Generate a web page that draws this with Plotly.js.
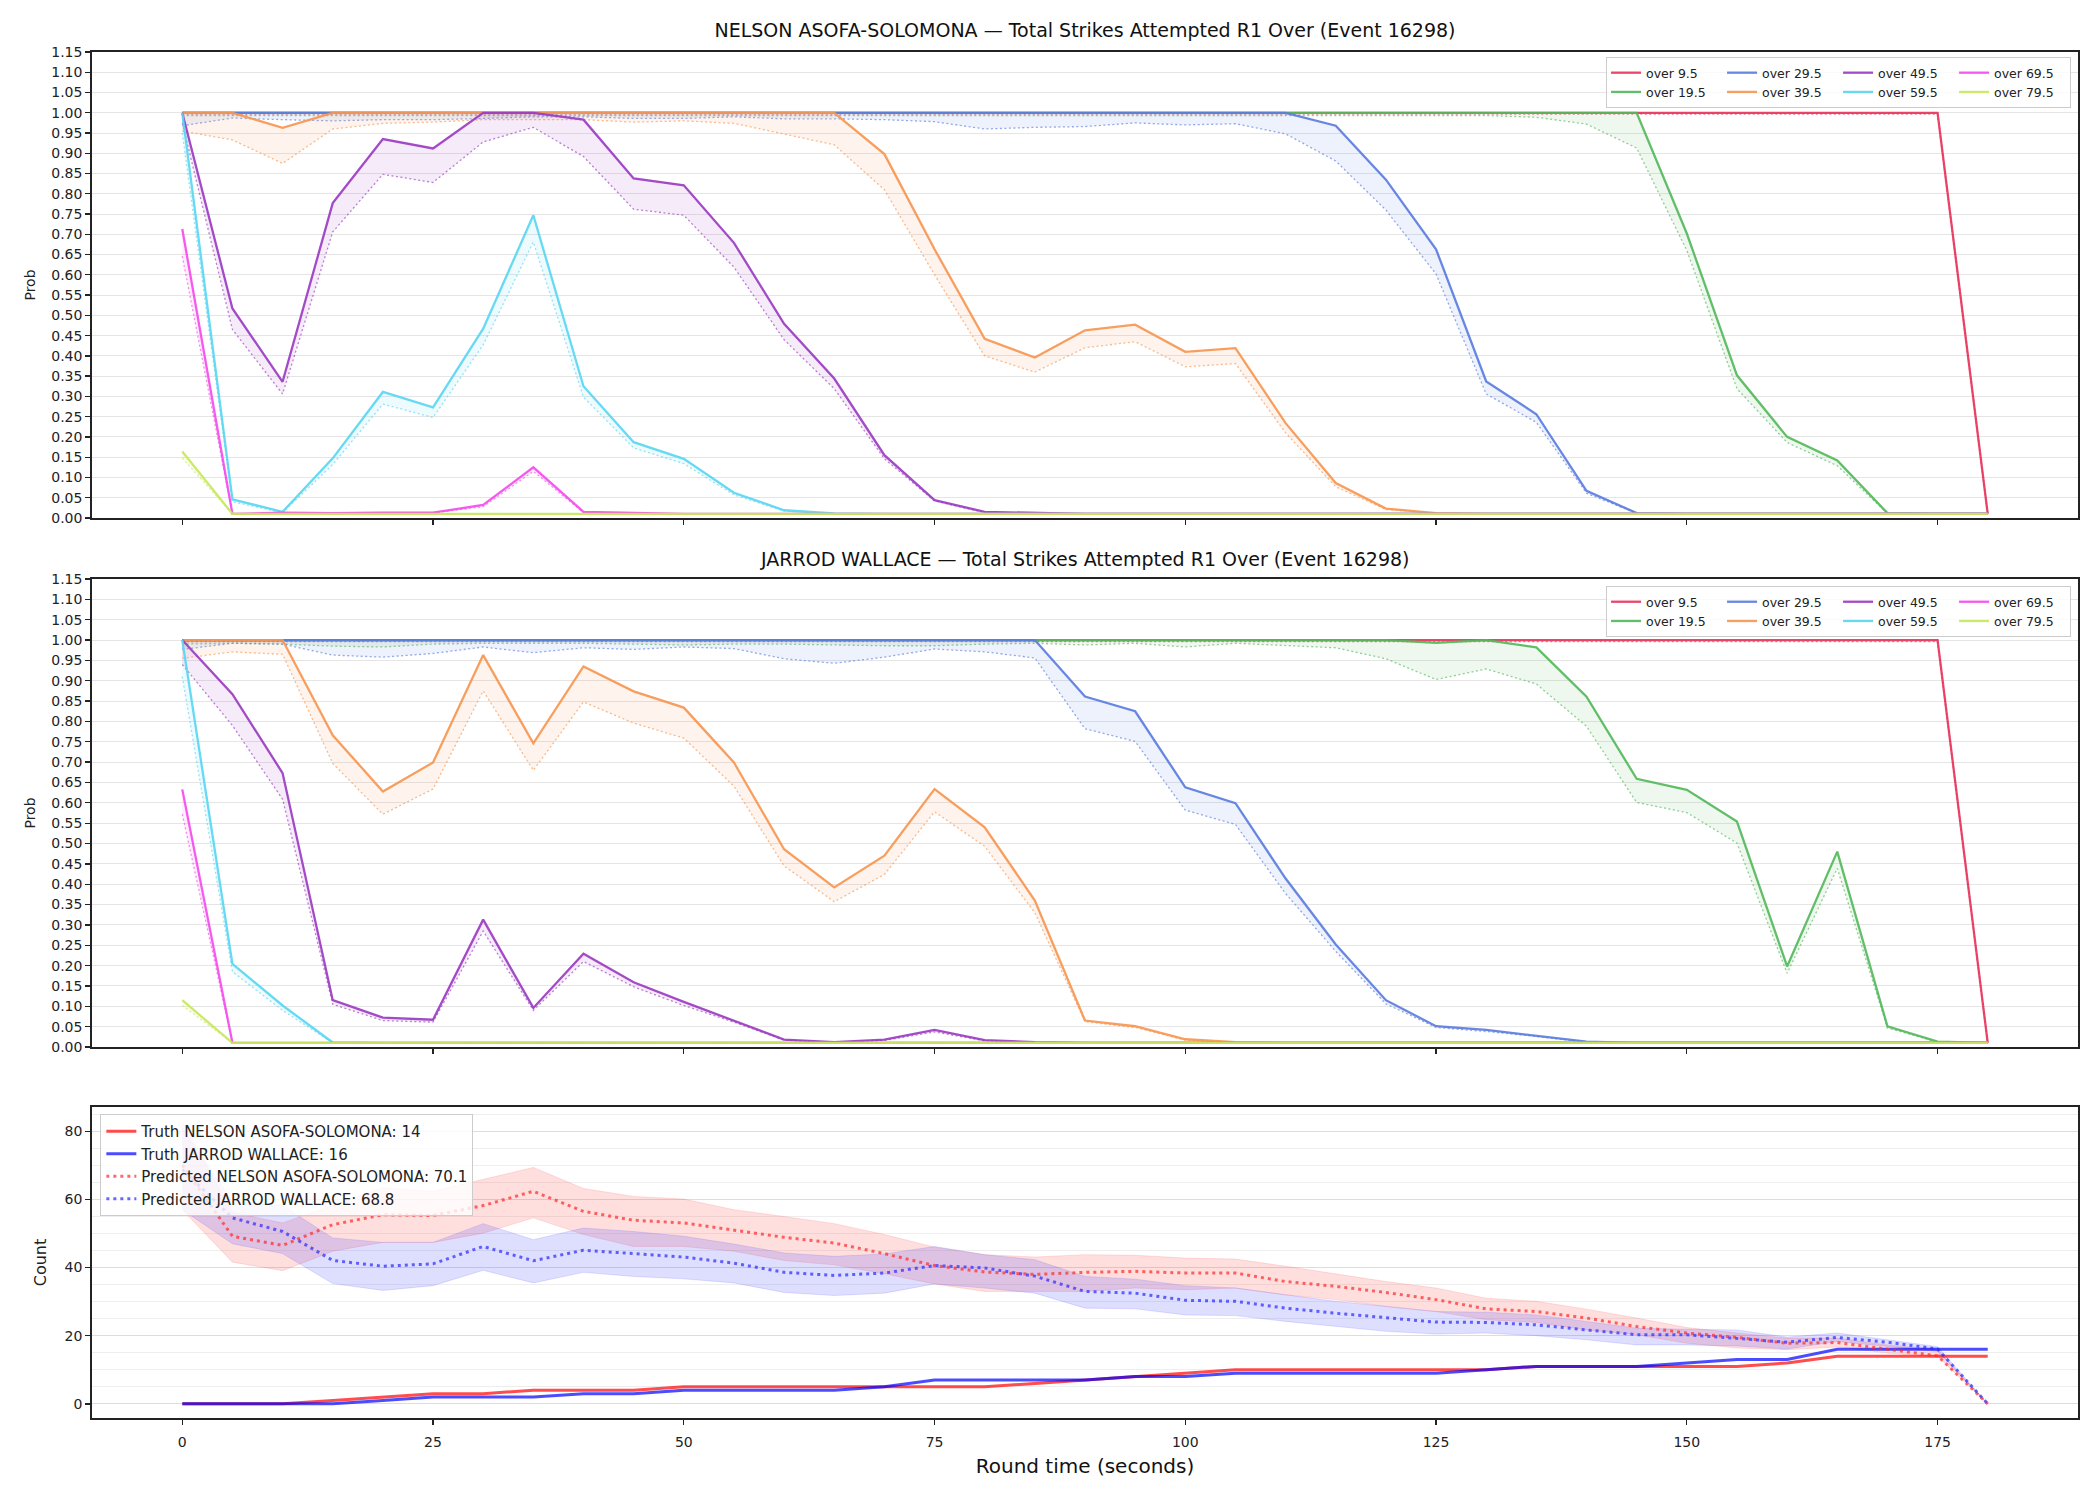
<!DOCTYPE html>
<html><head><meta charset="utf-8">
<script src="https://cdn.plot.ly/plotly-3.0.1.min.js"></script>
<style>html,body{margin:0;padding:0;background:#fff}#chart{width:2100px;height:1500px}</style>
</head><body><div id="chart"></div>
<script>
// ---------- data ----------
const t = [0,5,10,15,20,25,30,35,40,45,50,55,60,65,70,75,80,85,90,95,100,105,110,115,120,125,130,135,140,145,150,155,160,165,170,175,180];
const overLabels = ['over 9.5','over 19.5','over 29.5','over 39.5','over 49.5','over 59.5','over 69.5','over 79.5'];
const overColors = ['#e8365d','#55b95c','#5b7de0','#f79650','#9b3cc2','#5ad6f2','#f44ced','#c8e85c'];

// NELSON ASOFA-SOLOMONA (solid line / dotted line)
const n_o9   = [1,1,1,1,1,1,1,1,1,1, 1,1,1,1,1,1,1,1,1,1, 1,1,1,1,1,1,1,1,1,1, 1,1,1,1,1,1,0.01];
const n_o9d  = [0.997,0.997,0.997,0.997,0.997,0.997,0.997,0.997,0.997,0.997, 0.997,0.997,0.997,0.997,0.997,0.997,0.997,0.997,0.997,0.997, 0.997,0.997,0.997,0.997,0.997,0.997,0.997,0.997,0.997,0.997, 0.997,0.997,0.997,0.997,0.997,0.997,0.01];
const n_o19  = [1,1,1,1,1,1,1,1,1,1, 1,1,1,1,1,1,1,1,1,1, 1,1,1,1,1,1,1,1,1,1, 0.702,0.352,0.200,0.142,0.012,0.01,0.01];
const n_o19d = [0.993,0.993,0.993,0.993,0.993,0.993,0.993,0.993,0.993,0.993, 0.993,0.993,0.993,0.993,0.993,0.993,0.993,0.993,0.993,0.993, 0.993,0.993,0.993,0.993,0.993,0.993,0.993,0.989,0.972,0.913, 0.660,0.319,0.186,0.129,0.011,0.01,0.01];
const n_o29  = [1,1,1,1,1,1,1,1,1,1, 1,1,1,1,1,1,1,1,1,1, 1,1,1,0.968,0.835,0.663,0.337,0.256,0.067,0.012, 0.01,0.01,0.01,0.01,0.01,0.01,0.01];
const n_o29d = [0.968,0.987,0.983,0.980,0.983,0.983,0.986,0.990,0.990,0.986, 0.986,0.990,0.985,0.985,0.983,0.978,0.960,0.964,0.966,0.975, 0.970,0.973,0.948,0.881,0.760,0.602,0.306,0.236,0.061,0.011, 0.01,0.01,0.01,0.01,0.01,0.01,0.01];
const n_o39  = [1,1,0.963,1,1,1,1,1,1,1, 1,1,1,1,0.898,0.663,0.442,0.396,0.463,0.477, 0.410,0.419,0.234,0.086,0.023,0.012,0.01,0.01,0.01,0.01, 0.01,0.01,0.01,0.01,0.01,0.01,0.01];
const n_o39d = [0.955,0.933,0.875,0.960,0.974,0.977,0.983,0.983,0.983,0.977, 0.980,0.974,0.948,0.921,0.810,0.600,0.400,0.360,0.420,0.435, 0.373,0.381,0.210,0.077,0.021,0.011,0.01,0.01,0.01,0.01, 0.01,0.01,0.01,0.01,0.01,0.01,0.01];
const n_o49  = [1,0.517,0.336,0.777,0.935,0.912,1,1,0.983,0.838, 0.821,0.679,0.479,0.344,0.155,0.044,0.015,0.012,0.01,0.01, 0.01,0.01,0.01,0.01,0.01,0.01,0.01,0.01,0.01,0.01, 0.01,0.01,0.01,0.01,0.01,0.01,0.01];
const n_o49d = [0.975,0.465,0.306,0.706,0.848,0.828,0.928,0.964,0.892,0.762, 0.747,0.619,0.440,0.319,0.146,0.042,0.013,0.011,0.01,0.01, 0.01,0.01,0.01,0.01,0.01,0.01,0.01,0.01,0.01,0.01, 0.01,0.01,0.01,0.01,0.01,0.01,0.01];
const n_o59  = [1,0.046,0.015,0.147,0.311,0.273,0.467,0.747,0.325,0.187, 0.146,0.062,0.019,0.011,0.01,0.01,0.01,0.01,0.01,0.01, 0.01,0.01,0.01,0.01,0.01,0.01,0.01,0.01,0.01,0.01, 0.01,0.01,0.01,0.01,0.01,0.01,0.01];
const n_o59d = [0.950,0.040,0.013,0.132,0.281,0.248,0.427,0.681,0.298,0.173, 0.134,0.057,0.017,0.010,0.01,0.01,0.01,0.01,0.01,0.01, 0.01,0.01,0.01,0.01,0.01,0.01,0.01,0.01,0.01,0.01, 0.01,0.01,0.01,0.01,0.01,0.01,0.01];
const n_o69  = [0.713,0.01,0.013,0.012,0.013,0.013,0.032,0.125,0.015,0.012, 0.01,0.01,0.01,0.01,0.01,0.01,0.01,0.01,0.01,0.01, 0.01,0.01,0.01,0.01,0.01,0.01,0.01,0.01,0.01,0.01, 0.01,0.01,0.01,0.01,0.01,0.01,0.01];
const n_o69d = [0.646,0.01,0.012,0.011,0.012,0.012,0.028,0.115,0.013,0.011, 0.01,0.01,0.01,0.01,0.01,0.01,0.01,0.01,0.01,0.01, 0.01,0.01,0.01,0.01,0.01,0.01,0.01,0.01,0.01,0.01, 0.01,0.01,0.01,0.01,0.01,0.01,0.01];
const n_o79  = [0.164,0.01,0.01,0.01,0.01,0.01,0.01,0.01,0.01,0.01, 0.01,0.01,0.01,0.01,0.01,0.01,0.01,0.01,0.01,0.01, 0.01,0.01,0.01,0.01,0.01,0.01,0.01,0.01,0.01,0.01, 0.01,0.01,0.01,0.01,0.01,0.01,0.01];
const n_o79d = [0.148,0.01,0.01,0.01,0.01,0.01,0.01,0.01,0.01,0.01, 0.01,0.01,0.01,0.01,0.01,0.01,0.01,0.01,0.01,0.01, 0.01,0.01,0.01,0.01,0.01,0.01,0.01,0.01,0.01,0.01, 0.01,0.01,0.01,0.01,0.01,0.01,0.01];

// JARROD WALLACE (solid line / dotted line)
const j_o9   = [1,1,1,1,1,1,1,1,1,1, 1,1,1,1,1,1,1,1,1,1, 1,1,1,1,1,1,1,1,1,1, 1,1,1,1,1,1,0.01];
const j_o9d  = [0.996,0.996,0.996,0.996,0.996,0.996,0.996,0.996,0.996,0.996, 0.996,0.996,0.996,0.996,0.996,0.996,0.996,0.996,0.996,0.996, 0.996,0.996,0.996,0.996,0.996,0.996,0.996,0.996,0.996,0.996, 0.996,0.996,0.996,0.996,0.996,0.996,0.01];
const j_o19  = [1,1,1,1,1,1,1,1,1,1, 1,1,1,1,1,1,1,1,1,1, 1,1,1,1,1,0.993,1,0.982,0.861,0.659, 0.632,0.554,0.198,0.480,0.051,0.013,0.01];
const j_o19d = [0.990,0.992,0.990,0.985,0.983,0.990,0.992,0.992,0.992,0.990, 0.988,0.990,0.990,0.988,0.986,0.986,0.990,0.992,0.988,0.992, 0.983,0.992,0.986,0.981,0.954,0.903,0.929,0.892,0.788,0.601, 0.576,0.501,0.181,0.439,0.047,0.012,0.01];
const j_o29  = [1,1,1,1,1,1,1,1,1,1, 1,1,1,1,1,1,1,1,0.861,0.825, 0.638,0.599,0.414,0.252,0.115,0.051,0.042,0.027,0.013,0.01, 0.01,0.01,0.01,0.01,0.01,0.01,0.01];
const j_o29d = [0.977,0.992,0.990,0.963,0.958,0.967,0.983,0.969,0.981,0.977, 0.983,0.979,0.954,0.943,0.958,0.978,0.971,0.956,0.782,0.751, 0.582,0.547,0.377,0.235,0.106,0.048,0.038,0.026,0.012,0.01, 0.01,0.01,0.01,0.01,0.01,0.01,0.01];
const j_o39  = [1,1,1,0.766,0.628,0.699,0.963,0.746,0.935,0.874, 0.834,0.699,0.486,0.392,0.470,0.634,0.540,0.360,0.065,0.051, 0.019,0.012,0.01,0.01,0.01,0.01,0.01,0.01,0.01,0.01, 0.01,0.01,0.01,0.01,0.01,0.01,0.01];
const j_o39d = [0.955,0.971,0.965,0.697,0.572,0.634,0.875,0.680,0.848,0.796, 0.759,0.641,0.445,0.357,0.424,0.578,0.493,0.330,0.062,0.048, 0.017,0.011,0.01,0.01,0.01,0.01,0.01,0.01,0.01,0.01, 0.01,0.01,0.01,0.01,0.01,0.01,0.01];
const j_o49  = [1,0.867,0.673,0.115,0.072,0.067,0.313,0.096,0.229,0.159, 0.111,0.065,0.018,0.012,0.018,0.042,0.017,0.012,0.01,0.01, 0.01,0.01,0.01,0.01,0.01,0.01,0.01,0.01,0.01,0.01, 0.01,0.01,0.01,0.01,0.01,0.01,0.01];
const j_o49d = [0.940,0.790,0.609,0.105,0.065,0.061,0.285,0.090,0.210,0.148, 0.102,0.061,0.017,0.011,0.016,0.037,0.015,0.011,0.01,0.01, 0.01,0.01,0.01,0.01,0.01,0.01,0.01,0.01,0.01,0.01, 0.01,0.01,0.01,0.01,0.01,0.01,0.01];
const j_o59  = [1,0.204,0.102,0.011,0.01,0.01,0.01,0.01,0.01,0.01, 0.01,0.01,0.01,0.01,0.01,0.01,0.01,0.01,0.01,0.01, 0.01,0.01,0.01,0.01,0.01,0.01,0.01,0.01,0.01,0.01, 0.01,0.01,0.01,0.01,0.01,0.01,0.01];
const j_o59d = [0.910,0.185,0.090,0.010,0.01,0.01,0.01,0.01,0.01,0.01, 0.01,0.01,0.01,0.01,0.01,0.01,0.01,0.01,0.01,0.01, 0.01,0.01,0.01,0.01,0.01,0.01,0.01,0.01,0.01,0.01, 0.01,0.01,0.01,0.01,0.01,0.01,0.01];
const j_o69  = [0.633,0.01,0.01,0.01,0.01,0.01,0.01,0.01,0.01,0.01, 0.01,0.01,0.01,0.01,0.01,0.01,0.01,0.01,0.01,0.01, 0.01,0.01,0.01,0.01,0.01,0.01,0.01,0.01,0.01,0.01, 0.01,0.01,0.01,0.01,0.01,0.01,0.01];
const j_o69d = [0.572,0.01,0.01,0.01,0.01,0.01,0.01,0.01,0.01,0.01, 0.01,0.01,0.01,0.01,0.01,0.01,0.01,0.01,0.01,0.01, 0.01,0.01,0.01,0.01,0.01,0.01,0.01,0.01,0.01,0.01, 0.01,0.01,0.01,0.01,0.01,0.01,0.01];
const j_o79  = [0.115,0.01,0.01,0.01,0.01,0.01,0.01,0.01,0.01,0.01, 0.01,0.01,0.01,0.01,0.01,0.01,0.01,0.01,0.01,0.01, 0.01,0.01,0.01,0.01,0.01,0.01,0.01,0.01,0.01,0.01, 0.01,0.01,0.01,0.01,0.01,0.01,0.01];
const j_o79d = [0.102,0.01,0.01,0.01,0.01,0.01,0.01,0.01,0.01,0.01, 0.01,0.01,0.01,0.01,0.01,0.01,0.01,0.01,0.01,0.01, 0.01,0.01,0.01,0.01,0.01,0.01,0.01,0.01,0.01,0.01, 0.01,0.01,0.01,0.01,0.01,0.01,0.01];

// Count panel
const truthNelson = [0,0,0,1,2,3,3,4,4,4, 5,5,5,5,5,5,5,6,7,8, 9,10,10,10,10,10,10,11,11,11, 11,11,12,14,14,14,14];
const truthJarrod = [0,0,0,0,1,2,2,2,3,3, 4,4,4,4,5,7,7,7,7,8, 8,9,9,9,9,9,10,11,11,11, 12,13,13,16,16,16,16];
const predNelson  = [70.1,49.2,46.5,52.6,55.5,55.3,58.2,62.4,56.5,53.9, 53.1,51.1,48.9,47.2,44.1,40.6,38.7,38.0,38.6,38.9, 38.4,38.4,35.9,34.5,32.7,30.6,27.9,27.1,25.2,22.7, 20.8,19.5,17.8,18.0,16.1,14.1,0];
const predJarrod  = [68.8,54.6,50.6,42.1,40.4,41.1,46.2,42.0,45.1,44.0, 43.1,41.3,38.6,37.7,38.4,40.6,39.9,37.5,33.0,32.5, 30.4,30.1,28.1,26.6,25.2,24.0,23.9,23.2,21.7,20.3, 20.3,19.3,18.1,19.5,18.1,16.1,0];
const nelsonHigh  = [83,56.2,53.1,58.2,63.4,62.4,65.8,69.4,63.2,60.9, 60.1,57.0,55.0,52.9,49.7,46.0,43.8,43.1,43.8,43.6, 42.8,42.5,40.4,38.2,35.9,34.0,31.0,30.1,27.8,25.2, 22.4,20.8,19.3,19.3,17.3,15.9,0];
const nelsonLow   = [57,41.6,39.1,44.8,47.4,47.4,50.1,54.6,49.7,46.2, 46.2,44.8,42.1,40.8,38.2,35.2,33.0,33.0,33.0,34.0, 33.5,34.0,32.0,30.6,28.6,27.1,24.7,23.9,21.7,20.3, 17.8,16.4,15.9,16.7,14.9,13.9,0];
const jarrodHigh  = [81,59.5,58.2,48.7,47.4,47.4,52.9,48.2,51.6,50.6, 49.2,46.9,44.3,43.3,44.0,46.2,43.8,42.3,37.4,36.6, 34.7,34.0,32.0,30.1,28.6,27.1,26.9,26.1,24.2,22.2, 21.9,21.7,19.6,20.8,18.8,16.8,0];
const jarrodLow   = [57,47.0,44.1,35.3,33.3,34.7,39.2,35.5,38.6,37.4, 36.7,35.5,32.7,31.8,32.5,35.2,34.0,32.5,28.1,27.9, 26.1,25.9,24.2,22.7,21.3,20.5,20.8,20.0,18.8,17.3, 17.3,17.0,16.1,18.3,16.8,15.4,0];

const xTicks = [0,25,50,75,100,125,150,175];
const countTicks = [0,20,40,60,80];
const titleNelson = 'NELSON ASOFA-SOLOMONA — Total Strikes Attempted R1 Over (Event 16298)';
const titleJarrod = 'JARROD WALLACE — Total Strikes Attempted R1 Over (Event 16298)';
const legTruthN = 'Truth NELSON ASOFA-SOLOMONA: 14';
const legTruthJ = 'Truth JARROD WALLACE: 16';
const legPredN = 'Predicted NELSON ASOFA-SOLOMONA: 70.1';
const legPredJ = 'Predicted JARROD WALLACE: 68.8';

// ---------- build ----------
const FONT = 'DejaVu Sans';
function rgba(hex, a) {
  const r = parseInt(hex.slice(1,3),16), g = parseInt(hex.slice(3,5),16), b = parseInt(hex.slice(5,7),16);
  return 'rgba(' + r + ',' + g + ',' + b + ',' + a + ')';
}
const nelsonSolid = [n_o9,n_o19,n_o29,n_o39,n_o49,n_o59,n_o69,n_o79];
const nelsonDot   = [n_o9d,n_o19d,n_o29d,n_o39d,n_o49d,n_o59d,n_o69d,n_o79d];
const jarrodSolid = [j_o9,j_o19,j_o29,j_o39,j_o49,j_o59,j_o69,j_o79];
const jarrodDot   = [j_o9d,j_o19d,j_o29d,j_o39d,j_o49d,j_o59d,j_o69d,j_o79d];

const traces = [];
function addPanel(solids, dots, xa, ya, legendId, pref) {
  for (let i = 0; i < overLabels.length; i++) {
    const c = overColors[i];
    traces.push({
      x: t, y: solids[i], type: 'scatter', mode: 'lines', xaxis: xa, yaxis: ya,
      name: overLabels[i], legend: legendId, legendgroup: pref + Math.floor(i / 2),
      line: {color: rgba(c, 0.92), width: 2.3}, hoverinfo: 'skip'
    });
    traces.push({
      x: t, y: dots[i], type: 'scatter', mode: 'lines', xaxis: xa, yaxis: ya,
      showlegend: false, fill: 'tonexty', fillcolor: rgba(c, 0.1),
      line: {color: rgba(c, 0.65), width: 1.3, dash: '2px,2.5px'}, hoverinfo: 'skip'
    });
  }
}
addPanel(nelsonSolid, nelsonDot, 'x', 'y', 'legend', 'a');
addPanel(jarrodSolid, jarrodDot, 'x2', 'y2', 'legend2', 'b');

// bands
traces.push({x: t, y: nelsonLow, type: 'scatter', mode: 'lines', xaxis: 'x3', yaxis: 'y3', showlegend: false,
  line: {color: 'rgba(255,60,60,0.15)', width: 1}, hoverinfo: 'skip'});
traces.push({x: t, y: nelsonHigh, type: 'scatter', mode: 'lines', xaxis: 'x3', yaxis: 'y3', showlegend: false,
  fill: 'tonexty', fillcolor: 'rgba(255,60,60,0.17)', line: {color: 'rgba(255,60,60,0.15)', width: 1}, hoverinfo: 'skip'});
traces.push({x: t, y: jarrodLow, type: 'scatter', mode: 'lines', xaxis: 'x3', yaxis: 'y3', showlegend: false,
  line: {color: 'rgba(60,60,255,0.15)', width: 1}, hoverinfo: 'skip'});
traces.push({x: t, y: jarrodHigh, type: 'scatter', mode: 'lines', xaxis: 'x3', yaxis: 'y3', showlegend: false,
  fill: 'tonexty', fillcolor: 'rgba(60,60,255,0.17)', line: {color: 'rgba(60,60,255,0.15)', width: 1}, hoverinfo: 'skip'});
traces.push({x: t, y: truthNelson, type: 'scatter', mode: 'lines', xaxis: 'x3', yaxis: 'y3', legend: 'legend3',
  name: legTruthN, line: {color: 'rgba(255,0,0,0.7)', width: 3}});
traces.push({x: t, y: truthJarrod, type: 'scatter', mode: 'lines', xaxis: 'x3', yaxis: 'y3', legend: 'legend3',
  name: legTruthJ, line: {color: 'rgba(0,0,255,0.7)', width: 3}});
traces.push({x: t, y: predNelson, type: 'scatter', mode: 'lines', xaxis: 'x3', yaxis: 'y3', legend: 'legend3',
  name: legPredN, line: {color: 'rgba(255,40,40,0.7)', width: 3, dash: '3px,4px'}});
traces.push({x: t, y: predJarrod, type: 'scatter', mode: 'lines', xaxis: 'x3', yaxis: 'y3', legend: 'legend3',
  name: legPredJ, line: {color: 'rgba(40,40,255,0.7)', width: 3, dash: '3px,4px'}});

const tickFont = {family: FONT, size: 14, color: '#222'};
function xAxis(anchor, labels) {
  return {anchor: anchor, domain: [0, 1], range: [-9, 189], tickvals: xTicks, showticklabels: labels,
    ticks: 'outside', ticklen: 5, tickwidth: 1.3, tickcolor: '#222', showline: true, mirror: true,
    linecolor: '#222', linewidth: 1.8, showgrid: false, zeroline: false, tickfont: tickFont};
}
function probAxis(domain, anchor) {
  return {anchor: anchor, domain: domain, range: [0, 1.15], tick0: 0, dtick: 0.05, tickformat: '.2f',
    ticks: 'outside', ticklen: 5, tickwidth: 1.3, tickcolor: '#222', showline: true, mirror: true,
    linecolor: '#222', linewidth: 1.8, showgrid: true, gridcolor: '#e5e5e5', gridwidth: 1, zeroline: false,
    tickfont: tickFont, title: {text: 'Prob', font: {family: FONT, size: 14, color: '#222'}, standoff: 12}};
}
const legendBase = {orientation: 'h', traceorder: 'grouped', tracegroupgap: 0, entrywidth: 71,
  bgcolor: 'rgba(255,255,255,0.8)', bordercolor: '#cccccc', borderwidth: 1,
  font: {family: FONT, size: 12.5, color: '#222'}, xanchor: 'right', yanchor: 'top', x: 0.9965};

const layout = {
  width: 2100, height: 1500, paper_bgcolor: '#fff', plot_bgcolor: '#fff',
  margin: {l: 92, r: 22, t: 52, b: 82}, showlegend: true, hovermode: false,
  font: {family: FONT, color: '#222'},
  title: {text: titleNelson, font: {family: FONT, size: 19, color: '#111'}, x: 0.5, xref: 'paper',
    y: 1 - 30.5 / 1500, yref: 'container', yanchor: 'middle'},
  annotations: [{text: titleJarrod, xref: 'paper', yref: 'paper', x: 0.5, y: (1418 - 559) / 1366,
    xanchor: 'center', yanchor: 'middle', showarrow: false, font: {family: FONT, size: 19, color: '#111'}}],
  xaxis: xAxis('y', false),
  xaxis2: xAxis('y2', false),
  xaxis3: Object.assign(xAxis('y3', true), {ticklabelstandoff: 5,
    title: {text: 'Round time (seconds)', font: {family: FONT, size: 20, color: '#111'}, standoff: 10}}),
  yaxis: probAxis([0.6589, 1], 'x'),
  yaxis2: probAxis([0.2716, 0.6142], 'x2'),
  yaxis3: {anchor: 'x3', domain: [0, 0.2277], range: [-4.15, 87.15], tickvals: countTicks,
    ticks: 'outside', ticklen: 5, tickwidth: 1.3, tickcolor: '#222', showline: true, mirror: true,
    linecolor: '#222', linewidth: 1.8, showgrid: true, gridcolor: '#dddddd', gridwidth: 1, zeroline: false,
    minor: {tick0: 0, dtick: 5, showgrid: true, gridcolor: '#eeeeee', gridwidth: 1, ticks: ''},
    tickfont: tickFont, title: {text: 'Count', font: {family: FONT, size: 16, color: '#222'}, standoff: 14}},
  legend: Object.assign({}, legendBase, {y: 0.9963}),
  legend2: Object.assign({}, legendBase, {y: 0.609}),
  legend3: {orientation: 'v', traceorder: 'normal', x: 0.0042, xanchor: 'left', y: 0.2225, yanchor: 'top',
    bgcolor: 'rgba(255,255,255,0.8)', bordercolor: '#cccccc', borderwidth: 1,
    font: {family: FONT, size: 15, color: '#222'}}
};

Plotly.newPlot('chart', traces, layout, {displayModeBar: false, staticPlot: true});
</script>
</body></html>
